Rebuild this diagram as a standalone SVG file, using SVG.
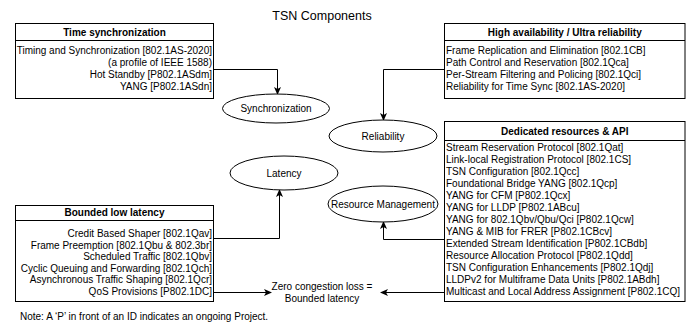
<svg xmlns="http://www.w3.org/2000/svg" width="689" height="326" viewBox="0 0 689 326">
<defs>
<marker id="arr" viewBox="0 0 8 7" refX="7" refY="3.5" markerWidth="8" markerHeight="7" markerUnits="userSpaceOnUse" orient="auto">
<path d="M0,0 L8,3.5 L0,7 L2,3.5 z" fill="#000"/>
</marker>
<style>
text{font-family:"Liberation Sans",Arial,Helvetica,sans-serif;font-size:10px;fill:#000}
.hd{font-weight:bold;text-anchor:middle}
.r{text-anchor:end}
.c{text-anchor:middle}
.box{fill:#fff;stroke:#000;stroke-width:1}
.el{fill:#fff;stroke:#000;stroke-width:1}
.cn{fill:none;stroke:#000;stroke-width:1;marker-end:url(#arr)}
</style>
</defs>
<rect width="689" height="326" fill="#fff"/>
<text x="322" y="20" class="c" style="font-size:12.5px">TSN Components</text>

<g id="connectors">
<path class="cn" d="M213.5,69.5 H277.5 V94"/>
<path class="cn" d="M444.5,69.5 H383.5 V120"/>
<path class="cn" d="M213.5,238.5 H279.5 V190"/>
<path class="cn" d="M213.5,292.5 H271"/>
<path class="cn" d="M444.5,239.5 H383.5 V222"/>
<path class="cn" d="M444.5,292.5 H381"/>
</g>

<g id="time-sync">
<rect class="box" x="15.5" y="23.5" width="198" height="75"/>
<line x1="15.5" y1="40.5" x2="213.5" y2="40.5" stroke="#000"/>
<text x="114.5" y="35.5" class="hd">Time synchronization</text>
<text x="212" y="54" class="r">Timing and Synchronization [802.1AS-2020]</text>
<text x="212" y="66" class="r">(a profile of IEEE 1588)</text>
<text x="212" y="78" class="r">Hot Standby [P802.1ASdm]</text>
<text x="212" y="90" class="r">YANG [P802.1ASdn]</text>
</g>

<g id="high-availability">
<rect class="box" x="444.5" y="23.5" width="240.5" height="75"/>
<line x1="444.5" y1="40.5" x2="685" y2="40.5" stroke="#000"/>
<text x="564.75" y="35.5" class="hd">High availability / Ultra reliability</text>
<text x="446" y="54">Frame Replication and Elimination [802.1CB]</text>
<text x="446" y="66">Path Control and Reservation [802.1Qca]</text>
<text x="446" y="78">Per-Stream Filtering and Policing [802.1Qci]</text>
<text x="446" y="90">Reliability for Time Sync [802.1AS-2020]</text>
</g>

<g id="dedicated-resources">
<rect class="box" x="444.5" y="121.5" width="240.5" height="180"/>
<line x1="444.5" y1="140.5" x2="685" y2="140.5" stroke="#000"/>
<text x="564.75" y="134.5" class="hd">Dedicated resources &amp; API</text>
<text x="446" y="151">Stream Reservation Protocol [802.1Qat]</text>
<text x="446" y="163">Link-local Registration Protocol [802.1CS]</text>
<text x="446" y="175">TSN Configuration [802.1Qcc]</text>
<text x="446" y="187">Foundational Bridge YANG [802.1Qcp]</text>
<text x="446" y="199">YANG for CFM [P802.1Qcx]</text>
<text x="446" y="211">YANG for LLDP [P802.1ABcu]</text>
<text x="446" y="223">YANG for 802.1Qbv/Qbu/Qci [P802.1Qcw]</text>
<text x="446" y="235">YANG &amp; MIB for FRER [P802.1CBcv]</text>
<text x="446" y="247">Extended Stream Identification [P802.1CBdb]</text>
<text x="446" y="259">Resource Allocation Protocol [P802.1Qdd]</text>
<text x="446" y="271">TSN Configuration Enhancements [P802.1Qdj]</text>
<text x="446" y="283">LLDPv2 for Multiframe Data Units [P802.1ABdh]</text>
<text x="446" y="295">Multicast and Local Address Assignment [P802.1CQ]</text>
</g>

<g id="bounded-latency">
<rect class="box" x="15.5" y="205.5" width="198" height="96"/>
<line x1="15.5" y1="220.5" x2="213.5" y2="220.5" stroke="#000"/>
<text x="114.5" y="216" class="hd">Bounded low latency</text>
<text x="212" y="237" class="r">Credit Based Shaper [802.1Qav]</text>
<text x="212" y="248.5" class="r">Frame Preemption [802.1Qbu &amp; 802.3br]</text>
<text x="212" y="260" class="r">Scheduled Traffic [802.1Qbv]</text>
<text x="212" y="271.5" class="r">Cyclic Queuing and Forwarding [802.1Qch]</text>
<text x="212" y="283" class="r">Asynchronous Traffic Shaping [802.1Qcr]</text>
<text x="212" y="294.5" class="r">QoS Provisions [P802.1DC]</text>
</g>

<g id="synchronization">
<ellipse class="el" cx="276" cy="108.5" rx="53.5" ry="14.5"/>
<text x="276" y="112" class="c">Synchronization</text>
</g>
<g id="reliability">
<ellipse class="el" cx="383" cy="136" rx="54" ry="16"/>
<text x="383" y="139.5" class="c">Reliability</text>
</g>
<g id="latency">
<ellipse class="el" cx="284" cy="173" rx="54" ry="17"/>
<text x="284" y="176.5" class="c">Latency</text>
</g>
<g id="resource-management">
<ellipse class="el" cx="383" cy="204" rx="55" ry="18"/>
<text x="383" y="207.5" class="c">Resource Management</text>
</g>

<g id="zero-congestion">
<text x="322" y="289.5" class="c">Zero congestion loss =</text>
<text x="322" y="301.5" class="c">Bounded latency</text>
</g>

<text x="20" y="320">Note: A ‘P’ in front of an ID indicates an ongoing Project.</text>
</svg>
